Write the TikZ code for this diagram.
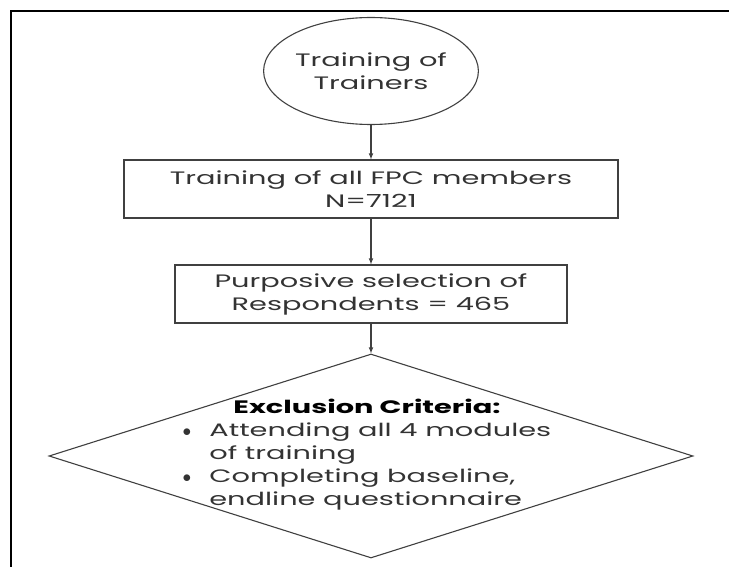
\documentclass[tikz,border=0pt]{standalone}
\usepackage{fontspec}
\setmainfont{Poppins}[FakeStretch=1.6]
\usetikzlibrary{arrows,shapes.geometric}

\tikzset{
  flowbox/.style={draw=black!75,line width=1.1pt,rectangle,minimum height=58pt,align=center,inner sep=0pt},
  flowline/.style={draw=black!75,line width=1.1pt,-latex},
}

\begin{document}
\begin{tikzpicture}[x=1pt,y=-1pt,font=\fontsize{18}{23}\selectfont,text=black!80]
\useasboundingbox (0,0) rectangle (729,567);

% outer frame (only top and left are in the picture)
\draw[line width=2pt] (10.5,575) -- (10.5,11.5) -- (740,11.5);

\node[ellipse,draw=black!75,line width=1.1pt,minimum width=181pt,minimum height=107pt,align=center,inner sep=0pt] (tot) at (371,71) {Training of\\Trainers};
\node[flowbox,minimum width=494pt] (fpc) at (371,189) {Training of all FPC members\\N=7121};
\node[flowbox,minimum width=392pt] (resp) at (371,294) {Purposive selection of\\Respondents = 465};
\node[diamond,draw=black!75,line width=1.1pt,minimum width=644pt,minimum height=204pt,inner sep=0pt] (excl) at (371,456) {};
\node[inner sep=0pt] (crit) at (367,455) {\begin{tabular}{@{}c@{\hspace{18pt}}l@{}}
\multicolumn{2}{c}{\textcolor{black}{\textbf{Exclusion Criteria:}}}\\
$\bullet$ & Attending all 4 modules\\
 & of training\\
$\bullet$ & Completing baseline,\\
 & endline questionnaire
\end{tabular}};

\draw[flowline] (tot) -- (fpc);
\draw[flowline] (fpc) -- (resp);
\draw[flowline] (resp) -- (excl);

\end{tikzpicture}
\end{document}
